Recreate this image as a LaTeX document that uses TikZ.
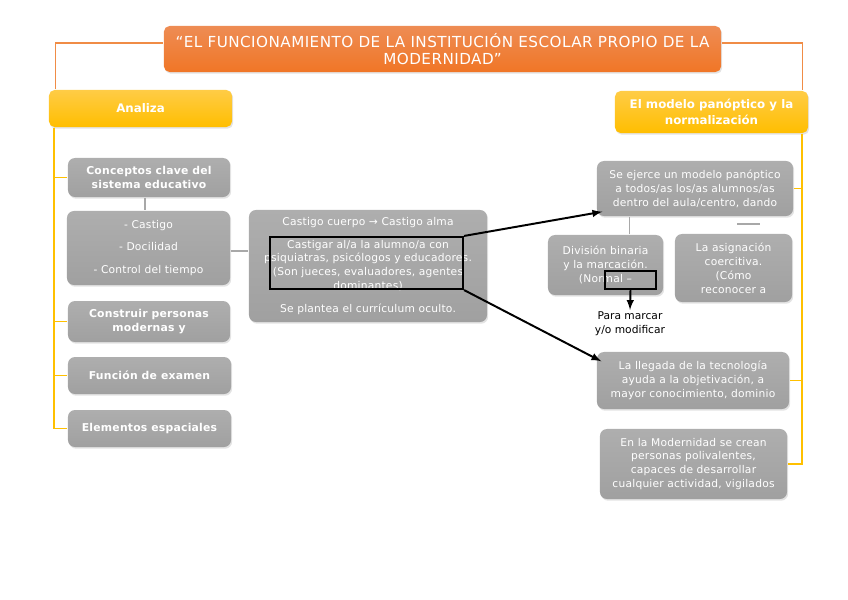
\documentclass[tikz,border=0pt]{standalone}
\usepackage{fontspec}
\setmainfont{DejaVu Sans}
\newfontfamily\titlefont[LetterSpace=3]{DejaVu Sans}
\newfontfamily\cajafont[LetterSpace=2]{DejaVu Sans}
\usetikzlibrary{shadows}
\definecolor{naranjaA}{RGB}{238,140,84}
\definecolor{naranjaB}{RGB}{240,118,38}
\definecolor{lineaN}{RGB}{240,140,70}
\definecolor{amarilloA}{RGB}{255,204,70}
\definecolor{amarilloB}{RGB}{255,190,0}
\definecolor{lineaA}{RGB}{255,192,0}
\definecolor{grisA}{RGB}{174,174,174}
\definecolor{grisB}{RGB}{160,160,160}
\definecolor{lineaG}{RGB}{168,168,168}
\tikzset{
every picture/.style={
line width=1pt
}}

\begin{document}
\begin{tikzpicture}[x=0.025cm, y=-0.025cm,
sombra/.style = {drop shadow={opacity=0.22, shadow xshift=0.8pt, shadow yshift=-1.2pt}},
titulo/.style = {rectangle, rounded corners=4pt, top color=naranjaA, bottom color=naranjaB, text=white, align=center, inner sep=2pt, font=\titlefont\fontsize{10.8}{12.6}\selectfont, sombra},
rama/.style = {rectangle, rounded corners=4pt, top color=amarilloA, bottom color=amarilloB, text=white, align=center, inner sep=2pt, font=\fontsize{8.4}{11}\selectfont\bfseries, sombra},
caja/.style = {rectangle, rounded corners=5pt, top color=grisA, bottom color=grisB, text=white, align=center, inner sep=2pt, font=\cajafont\fontsize{7.6}{9.9}\selectfont, sombra},
cajab/.style = {caja, font=\cajafont\fontsize{7.7}{10}\selectfont\bfseries},
marco/.style = {rectangle, draw=black, line width=1.5pt, inner sep=0pt},
lineaN/.style = {draw=lineaN, line width=1pt},
lineaA/.style = {draw=lineaA, line width=1.3pt},
lineaG/.style = {draw=lineaG, line width=1pt},
flecha/.style = {draw=black, line width=1.4pt, ->, >=latex}]

\useasboundingbox (0,0) rectangle (848,599);

\node[titulo, minimum width=13.925cm, minimum height=1.15cm] (tit) at (442.5,49) {“EL FUNCIONAMIENTO DE LA INSTITUCIÓN ESCOLAR PROPIO DE LA\\MODERNIDAD”};

\node[rama, minimum width=4.575cm, minimum height=0.925cm] (analiza) at (140.5,108.5) {Analiza};
\node[rama, minimum width=4.825cm, minimum height=1.05cm] (modelo) at (711.5,112) {El modelo panóptico y la\\normalización};

\node[cajab, minimum width=4.05cm, minimum height=0.975cm] (conceptos) at (149,177.5) {Conceptos clave del\\sistema educativo};
\node[caja, minimum width=4.075cm, minimum height=1.85cm] (lista) at (148.5,248) {- Castigo\\[6pt]- Docilidad\\[6pt]- Control del tiempo};
\node[cajab, minimum width=4.05cm, minimum height=1.025cm] (construir) at (149,321.5) {Construir personas\\modernas y};
\node[cajab, minimum width=4.075cm, minimum height=0.925cm] (examen) at (149.5,375.5) {Función de examen};
\node[cajab, minimum width=4.075cm, minimum height=0.925cm] (espacios) at (149.5,428.5) {Elementos espaciales};

\node[caja, minimum width=5.95cm, minimum height=2.8cm] (medio) at (368,266) {Castigo cuerpo → Castigo alma\\[6pt]Castigar al/a la alumno/a con\\psiquiatras, psicólogos y educadores.\\(Son jueces, evaluadores, agentes\\dominantes)\\[6pt]Se plantea el currículum oculto.};

\node[caja, minimum width=4.9cm, minimum height=1.375cm] (sejerce) at (695,188.5) {Se ejerce un modelo panóptico\\a todos/as los/as alumnos/as\\dentro del aula/centro, dando};
\node[caja, minimum width=2.875cm, minimum height=1.5cm] (division) at (605.5,265) {División binaria\\y la marcación.\\(Normal –};
\node[caja, minimum width=2.925cm, minimum height=1.7cm] (asignacion) at (733.5,268) {La asignación\\coercitiva.\\(Cómo\\reconocer a};
\node[caja, minimum width=4.8cm, minimum height=1.425cm] (llegada) at (693,380.5) {La llegada de la tecnología\\ayuda a la objetivación, a\\mayor conocimiento, dominio};
\node[caja, minimum width=4.675cm, minimum height=1.75cm] (modernidad) at (693.5,464) {En la Modernidad se crean\\personas polivalentes,\\capaces de desarrollar\\cualquier actividad, vigilados};

\node[marco, minimum width=4.825cm, minimum height=1.3cm] (marco) at (366.5,263) {};
\node[marco, minimum width=1.275cm, minimum height=0.45cm] (marca) at (630.5,280) {};
\node[align=center, inner sep=1pt, font=\fontsize{7.6}{9.9}\selectfont] (nota) at (630,324) {Para marcar\\y/o modificar};

\draw[lineaN] ([yshift=0.15cm]tit.west) -| ([xshift=0.175cm]analiza.north west);
\draw[lineaN] ([yshift=0.15cm]tit.east) -| ([xshift=-0.15cm]modelo.north east);

\draw[lineaA] ([xshift=0.15cm]analiza.south west) |- (conceptos.west);
\draw[lineaA] ([xshift=0.15cm]analiza.south west) |- (construir.west);
\draw[lineaA] ([xshift=0.15cm]analiza.south west) |- (examen.west);
\draw[lineaA] ([xshift=0.15cm]analiza.south west) |- (espacios.west);

\draw[lineaA] ([xshift=-0.175cm]modelo.south east) |- (sejerce.east);
\draw[lineaA] ([xshift=-0.175cm]modelo.south east) |- (llegada.east);
\draw[lineaA] ([xshift=-0.175cm]modelo.south east) |- (modernidad.east);

\draw[lineaG] ([xshift=-0.1cm]conceptos.south) -- ([xshift=-0.1cm]conceptos.south |- lista.north);
\draw[lineaG] ([yshift=-0.075cm]lista.east) -- ([yshift=-0.075cm]lista.east -| medio.west);
\draw[lineaG] ([xshift=0.6cm]division.north) -- ([xshift=0.6cm]division.north |- sejerce.south);
\coordinate (resto) at (737,224);
\draw[lineaG] (resto) -- ++(23,0);

\draw[flecha] (marco.north east) -- ([xshift=0.15cm, yshift=0.125cm]sejerce.south west);
\draw[flecha] (marco.south east) -- ([xshift=0.125cm, yshift=-0.25cm]llegada.north west);
\draw[flecha] (marca.south) -- (nota.north);
\end{tikzpicture}
\end{document}
